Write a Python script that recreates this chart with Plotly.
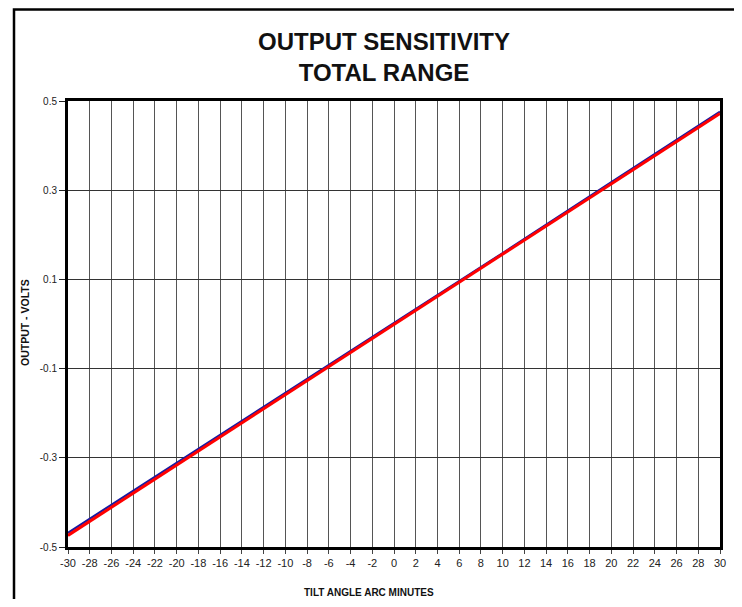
import plotly.graph_objects as go

# Data
tilt_minutes = [-30, -20, -10, 0, 10, 20, 30]
output_blue = [-0.468, -0.311, -0.155, 0.001, 0.159, 0.318, 0.476]
output_red = [-0.474, -0.316, -0.158, -0.001, 0.157, 0.315, 0.472]

x_ticks = list(range(-30, 31, 2))
x_tick_text = [str(v) for v in x_ticks]
y_ticks = [-0.5, -0.3, -0.1, 0.1, 0.3, 0.5]
y_tick_text = ["-0.5", "-0.3", "-0.1", "0.1", "0.3", "0.5"]

fig = go.Figure()
fig.add_trace(go.Scatter(x=tilt_minutes, y=output_blue, mode="lines",
                         line=dict(color="#1a1aa0", width=2.2), showlegend=False))
fig.add_trace(go.Scatter(x=tilt_minutes, y=output_red, mode="lines",
                         line=dict(color="#ff0000", width=3), showlegend=False))

font_family = "Liberation Sans, Arial, sans-serif"

# page is rendered with an 8px body margin, so figure coords = page coords - 8;
# figure is sized so that the page does not need scrollbars
FW, FH = 734, 591
L, R, T, B = 60, 712, 93, 539
W, H = R - L, B - T

fig.update_layout(
    width=FW, height=FH,
    margin=dict(l=L, r=FW - R, t=T, b=FH - B),
    paper_bgcolor="white", plot_bgcolor="white",
    font=dict(family=font_family, color="#111"),
    title=dict(text="<b>OUTPUT SENSITIVITY<br>TOTAL RANGE</b>",
               x=376/FW, xanchor="center", y=1-42/FH, yanchor="middle",
               font=dict(size=24, family=font_family, color="#111")),
    xaxis=dict(range=[-30, 30], tickmode="array", tickvals=x_ticks,
               ticktext=x_tick_text,
               ticks="outside", ticklen=4, tickcolor="#444", tickwidth=1,
               showgrid=True, gridcolor="#555", gridwidth=1,
               showline=True, linecolor="black", linewidth=3, mirror=True,
               zeroline=False, tickfont=dict(size=11, color="#222")),
    yaxis=dict(range=[-0.5, 0.5], tickmode="array", tickvals=y_ticks,
               ticktext=y_tick_text,
               ticks="outside", ticklen=6, tickcolor="#222", tickwidth=1,
               showgrid=True, gridcolor="#333", gridwidth=1,
               showline=True, linecolor="black", linewidth=3, mirror=True,
               zeroline=False, tickfont=dict(size=10, color="#222")),
    shapes=[dict(type="rect", xref="paper", yref="paper",
                 x0=(6 - L)/W, x1=(732.5 - L)/W, y0=(B - 610)/H, y1=(B - 1.5)/H,
                 line=dict(color="black", width=2.5), fillcolor="rgba(0,0,0,0)",
                 layer="above")],
    annotations=[
        dict(text="<b>TILT ANGLE ARC MINUTES</b>", xref="paper", yref="paper",
             x=(361 - L)/W, y=(B - 584)/H, xanchor="center", yanchor="middle",
             showarrow=False, font=dict(size=10, family=font_family, color="#111")),
        dict(text="<b>OUTPUT - VOLTS</b>", xref="paper", yref="paper",
             x=(17 - L)/W, y=(B - 315)/H, xanchor="center", yanchor="middle",
             textangle=-90, showarrow=False,
             font=dict(size=10.5, family=font_family, color="#111")),
    ],
)

fig.write_html("out.html")
